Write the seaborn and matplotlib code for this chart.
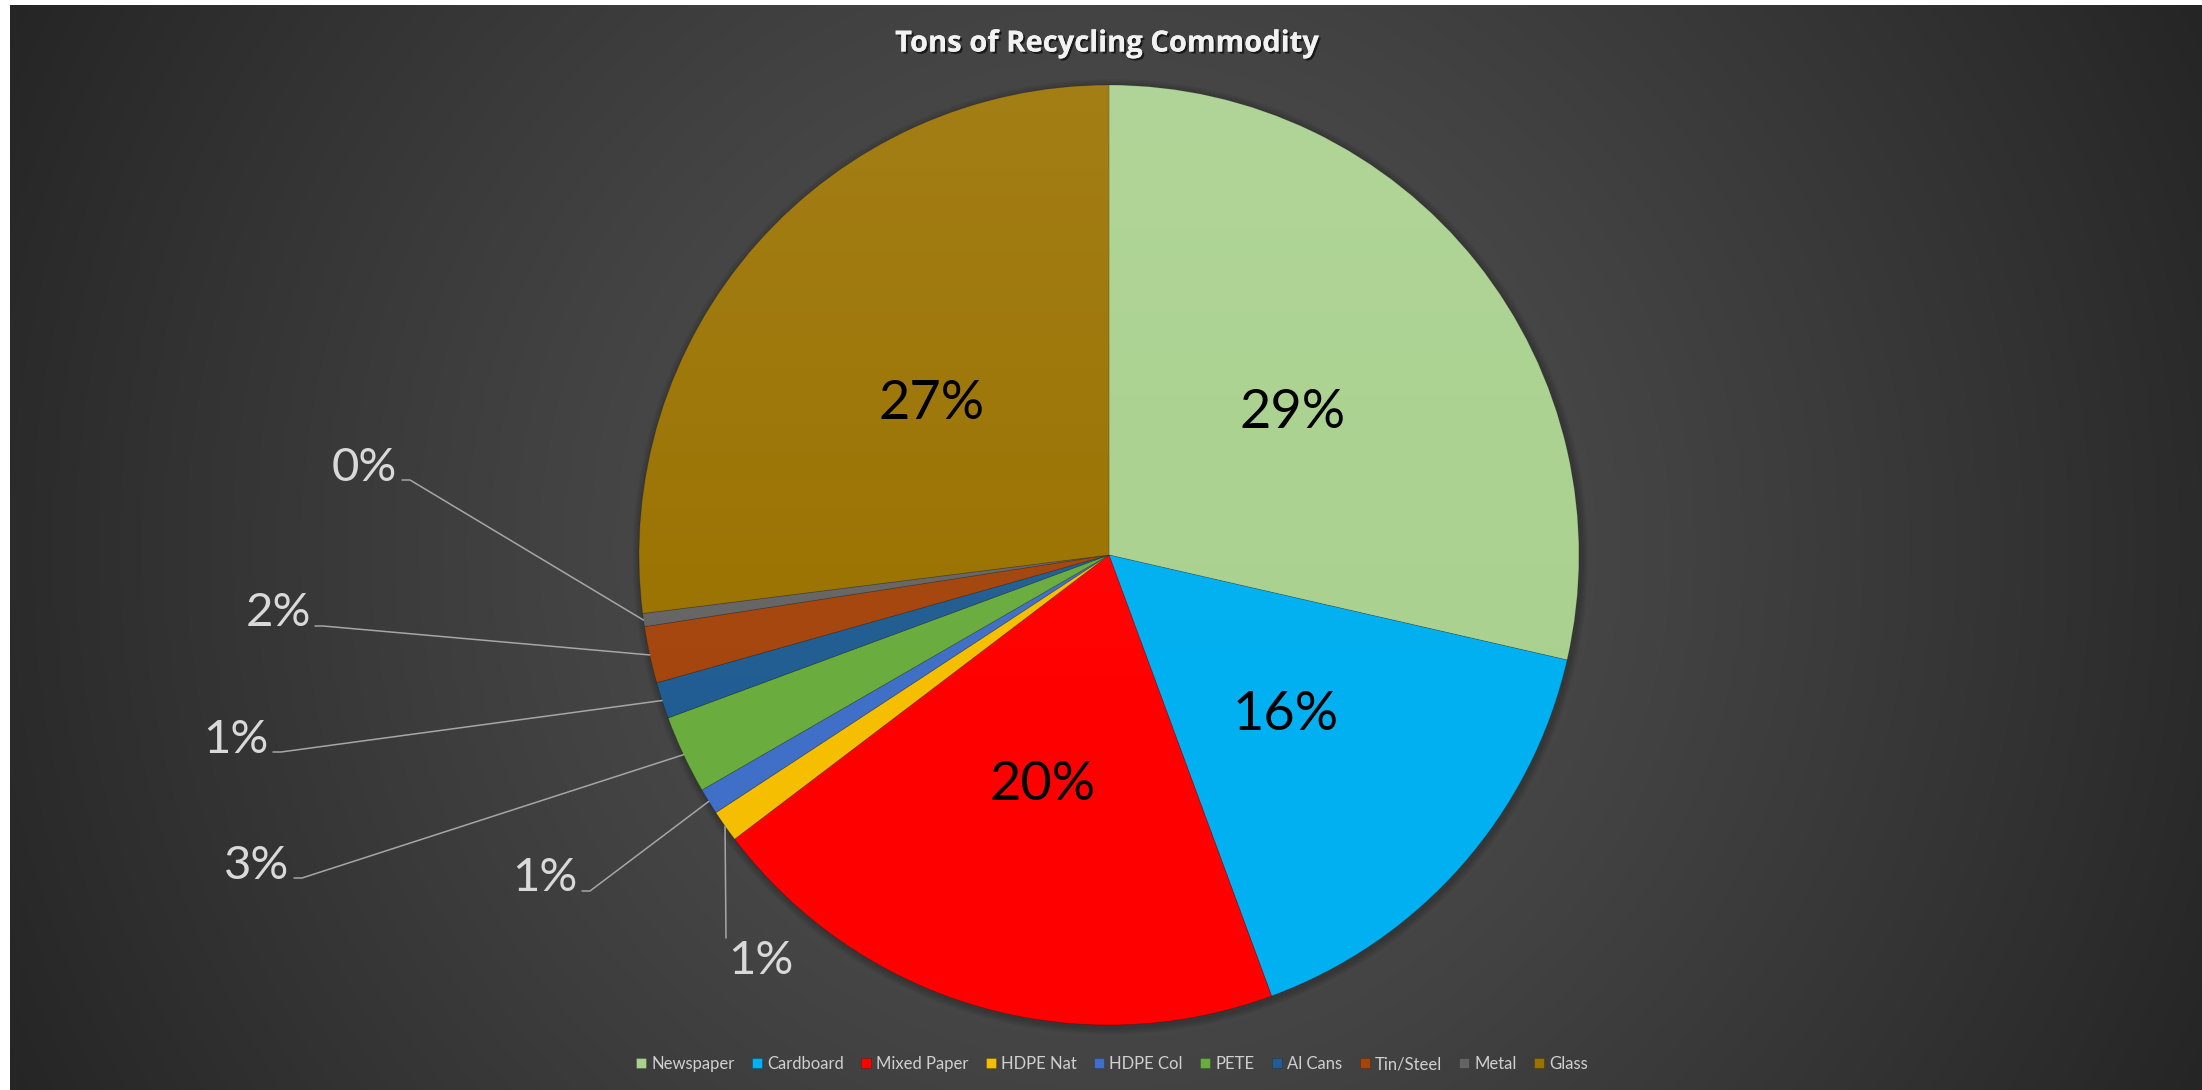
import numpy as np
import matplotlib
matplotlib.use("Agg")
import matplotlib.pyplot as plt
import matplotlib.patheffects as pe
from matplotlib.patches import Circle
import seaborn as sns

# slice shares (percent of total tons)
categories = ['Newspaper', 'Cardboard', 'Mixed Paper', 'HDPE Nat', 'HDPE Col',
              'PETE', 'Al Cans', 'Tin/Steel', 'Metal', 'Glass']
tons_share = [28.6, 15.8, 20.3, 1.1, 0.9, 2.7, 1.25, 1.95, 0.45, 27.0]
colors = ['#A9D18E', '#00B0F0', '#FF0000', '#F5BF00', '#3F6FC6',
          '#6AAC3E', '#215D92', '#A4450C', '#646464', '#9A7200']

# label layout in pixels (x center, baseline y); outside ones get leader lines
inside = {'Newspaper': (1293, 428), 'Cardboard': (1286, 730),
          'Mixed Paper': (1043, 800), 'Glass': (932, 419)}
outside = {'Metal': ((364, 481), (402, 480)),
           'Tin/Steel': ((278, 626), (315, 626)),
           'Al Cans': ((236, 753), (273, 752)),
           'PETE': ((257, 879), (294, 878)),
           'HDPE Col': ((545, 891), (582, 891)),
           'HDPE Nat': ((761, 974), (726, 938))}

W, H = 2202, 1090
CX, CY, R = 1109, 555, 470


def px(x, y):
    return (x - CX) / R, (CY - y) / R


sns.set_theme(style="dark")
plt.rcParams['font.family'] = ['Lato', 'DejaVu Sans']

fig = plt.figure(figsize=(W / 100, H / 100), dpi=100, facecolor='white')

# radial dark gradient background
bg = fig.add_axes([10 / W, 0, 1 - 10 / W, 1 - 5 / H])
yy, xx = np.mgrid[0:H, 0:W]
d = np.clip(np.hypot(xx - 1100, yy - 545) / 1230, 0, 1) ** 1.2
c0, c1 = 0x55 / 255, 0x25 / 255
shade = c0 + (c1 - c0) * d
bg.imshow(np.dstack([shade] * 3), aspect='auto', extent=(0, 1, 0, 1))
bg.set_axis_off()

ax = fig.add_axes([0, 0, 1, 1])
ax.patch.set_alpha(0)

# soft shadow behind the pie
for k in range(1, 5):
    ax.add_patch(Circle((0.003, -0.004), 1 + k * 0.004, color='black',
                        alpha=0.05, lw=0, zorder=0))

palette = sns.color_palette(colors)
wedges, _ = ax.pie(tons_share, colors=palette, startangle=90, counterclock=False,
                   radius=1, center=(0, 0),
                   wedgeprops=dict(linewidth=0.6, edgecolor=(0, 0, 0, 0.2)))

# light sheen on the upper part of the pie
grad = np.zeros((200, 2, 4))
grad[..., :3] = 1
grad[..., 3] = np.clip(np.linspace(0.09, -0.04, 200), 0, 1)[:, None]
sheen = ax.imshow(grad, extent=(-1, 1, -1, 1), aspect='auto', zorder=3)
sheen.set_clip_path(Circle((0, 0), 1, transform=ax.transData))

total = sum(tons_share)
pct = {c: f"{round(v / total * 100):.0f}%" for c, v in zip(categories, tons_share)}

for name, (x, y) in inside.items():
    tx, ty = px(x, y)
    ax.text(tx, ty, pct[name], ha='center', va='baseline', fontsize=39,
            color='black', zorder=5)

for w, name in zip(wedges, categories):
    if name not in outside:
        continue
    (x, y), (lx, ly) = outside[name]
    mid = np.deg2rad((w.theta1 + w.theta2) / 2)
    ax_, ay_ = np.cos(mid), np.sin(mid)
    if name == 'HDPE Nat':
        xs = [ax_, px(lx, ly)[0]]
        ys = [ay_, px(lx, ly)[1]]
    else:
        p0 = px(lx, ly)
        p1 = px(lx + 8, ly)
        xs = [p0[0], p1[0], ax_]
        ys = [p0[1], p1[1], ay_]
    ax.plot(xs, ys, color='#A6A6A6', lw=1.1, zorder=4)
    tx, ty = px(x, y)
    ax.text(tx, ty, pct[name], ha='center', va='baseline', fontsize=34,
            color='#D9D9D9', zorder=5)

ax.set_aspect('equal')
ax.set_xlim(-CX / R, (W - CX) / R)
ax.set_ylim(-(H - CY) / R, CY / R)
ax.set_axis_off()

fig.text(1107 / W, 1 - 44 / H, 'Tons of Recycling Commodity', ha='center',
         va='center', fontsize=21, fontweight='bold', color='#F2F2F2',
         family=['Open Sans', 'DejaVu Sans'],
         path_effects=[pe.withSimplePatchShadow(offset=(1.5, -1.5),
                                                shadow_rgbFace='black', alpha=0.6),
                       pe.Normal()])

leg = fig.legend(wedges, categories, loc='center', bbox_to_anchor=(1112 / W, 1 - 1064 / H),
                 ncol=len(categories), frameon=False, fontsize=12,
                 handlelength=0.6, handleheight=0.6, handletextpad=0.3,
                 columnspacing=1.05, borderaxespad=0)
for t in leg.get_texts():
    t.set_color('#D0D0D0')

fig.savefig('out.png', dpi=100, facecolor=fig.get_facecolor())
